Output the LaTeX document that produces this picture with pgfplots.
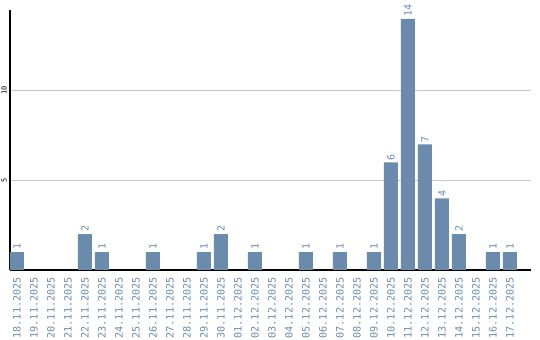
\documentclass[border=0pt]{standalone}
\usepackage{pgfplots}
\pgfplotsset{compat=1.18}
\usepackage{fontspec}
\setmainfont{DejaVu Sans Mono}
\definecolor{barc}{HTML}{6A8BAB}
\definecolor{labc}{HTML}{6A8CB0}
\definecolor{gridc}{HTML}{C8C8C8}
\begin{document}
\begin{tikzpicture}
\useasboundingbox (0,0) rectangle (540bp,340bp);
\begin{axis}[
  at={(10bp,70bp)}, anchor=south west,
  scale only axis, width=521bp, height=260bp,
  xmin=-0.41, xmax=30.24, ymin=0, ymax=14.5,
  axis x line=bottom, axis y line=left,
  axis line style={line width=1.5bp, black, -},
  ytick={5,10},
  /pgf/number format/assume math mode=true,
  xtick={0,...,29},
  xticklabels={18.11.2025,19.11.2025,20.11.2025,21.11.2025,22.11.2025,23.11.2025,24.11.2025,25.11.2025,26.11.2025,27.11.2025,28.11.2025,29.11.2025,30.11.2025,01.12.2025,02.12.2025,03.12.2025,04.12.2025,05.12.2025,06.12.2025,07.12.2025,08.12.2025,09.12.2025,10.12.2025,11.12.2025,12.12.2025,13.12.2025,14.12.2025,15.12.2025,16.12.2025,17.12.2025},
  major tick length=0pt,
  xticklabel style={rotate=90, anchor=east, font=\fontsize{10.2}{11}\selectfont, text=labc, inner sep=0pt, xshift=-7bp, yshift=0bp},
  yticklabel style={rotate=90, anchor=south, font=\fontsize{7}{8}\selectfont, text=black, inner sep=0pt, yshift=3bp},
  ymajorgrids, grid style={gridc, line width=1bp},
  ybar, bar width=0.82,
  nodes near coords,
  every node near coord/.append style={rotate=90, anchor=west, font=\fontsize{10}{11}\selectfont, text=labc, inner sep=0pt, xshift=2bp},
]
\addplot[fill=barc, draw=none] coordinates {
(0,1) (4,2) (5,1) (8,1) (11,1) (12,2) (14,1) (17,1) (19,1) (21,1)
(22,6) (23,14) (24,7) (25,4) (26,2) (28,1) (29,1)
};
\end{axis}
\end{tikzpicture}
\end{document}
